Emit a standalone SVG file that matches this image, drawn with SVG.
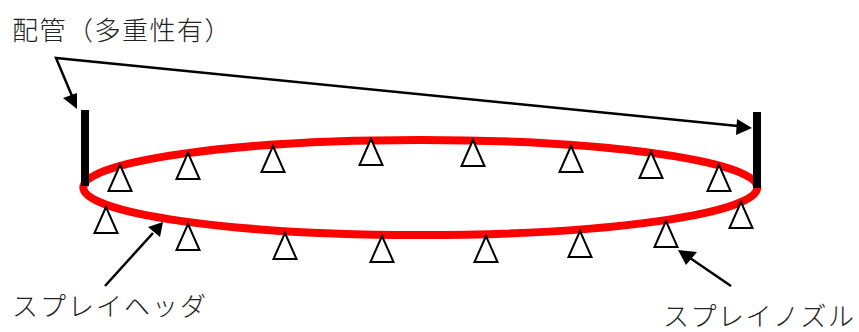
<svg xmlns="http://www.w3.org/2000/svg" width="859" height="332" viewBox="0 0 859 332">
<style>
text{font-family:"Noto Sans CJK JP","Noto Sans CJK SC",sans-serif;font-size:26px;fill:#222;font-weight:300}
.n{fill:#fff;stroke:#000;stroke-width:2;stroke-linejoin:miter}
.l{fill:none;stroke:#000;stroke-width:2.5}
.b{fill:#000}
</style>
<rect width="859" height="332" fill="#fff"/>
<g id="header"><ellipse cx="420.3" cy="187.5" rx="337" ry="47.5" fill="none" stroke="#f00" stroke-width="8"/></g>
<g id="pipes">
<rect x="81" y="110" width="8" height="76" fill="#000"/>
<rect x="753" y="112" width="8" height="76" fill="#000"/>
</g>
<g id="nozzles">
<path id="n1" class="n" d="M120 165l-11.500 26h23z"/>
<path id="n2" class="n" d="M188 153l-11.500 26h23z"/>
<path id="n3" class="n" d="M273 146l-11.500 26h23z"/>
<path id="n4" class="n" d="M371 139l-11.500 26h23z"/>
<path id="n5" class="n" d="M473 140l-11.500 26h23z"/>
<path id="n6" class="n" d="M571 146l-11.500 26h23z"/>
<path id="n7" class="n" d="M651 152l-11.500 26h23z"/>
<path id="n8" class="n" d="M719 165l-11.500 26h23z"/>
<path id="n9" class="n" d="M106 207l-11.500 26h23z"/>
<path id="n10" class="n" d="M188 224l-11.500 26h23z"/>
<path id="n11" class="n" d="M285 233l-11.500 26h23z"/>
<path id="n12" class="n" d="M382 236l-11.500 26h23z"/>
<path id="n13" class="n" d="M486 236l-11.500 26h23z"/>
<path id="n14" class="n" d="M580 231l-11.500 26h23z"/>
<path id="n15" class="n" d="M666 221l-11.500 26h23z"/>
<path id="n16" class="n" d="M741 202l-11.500 26h23z"/>
</g>
<g id="connectors">
<path class="l" d="M72 96L56 58L738 126"/>
<path class="b" d="M77 109L63 98L77 93z"/>
<path class="b" d="M752 128L736 135L737 119z"/>
<path class="l" d="M105 286L153 233"/>
<path class="b" d="M163 222L160 237L148 227z"/>
<path class="l" d="M731 286L690 258"/>
<path class="b" d="M678 250L697 252L686 265z"/>
</g>
<g id="labels">
<text x="12" y="40" letter-spacing="1.500">配管（多重性有）</text>
<text x="12" y="316" letter-spacing="2">スプレイヘッダ</text>
<text x="663" y="326" letter-spacing="1.500">スプレイノズル</text>
</g>
</svg>
